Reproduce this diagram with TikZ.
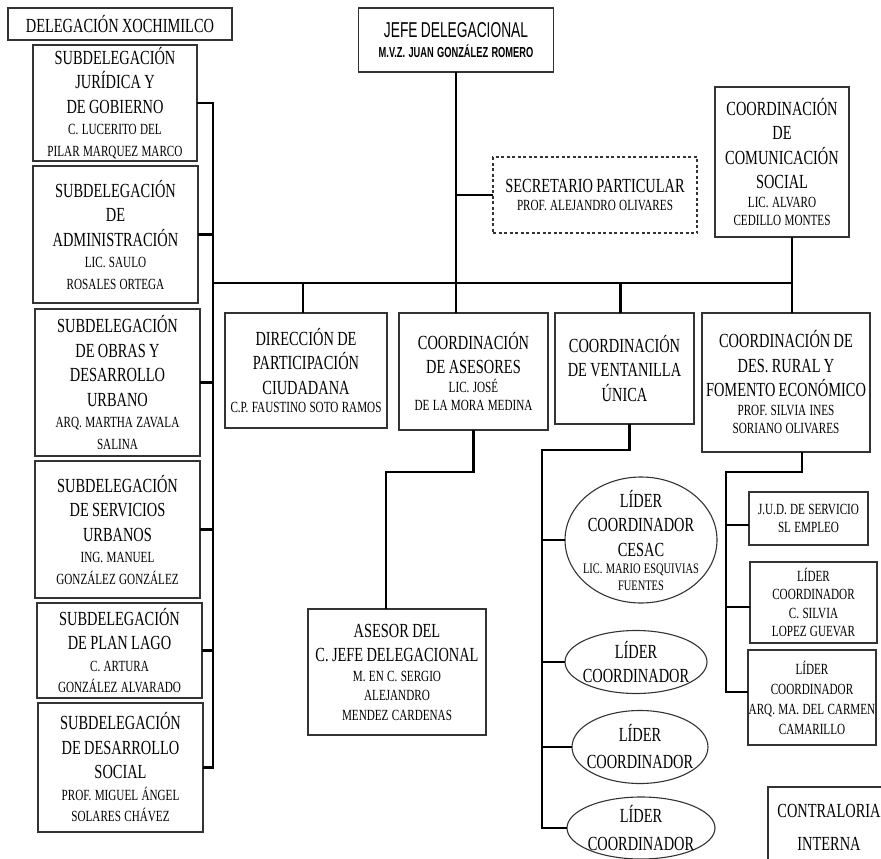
\documentclass[tikz,border=0pt]{standalone}
\usepackage{fontspec}
\setmainfont{Liberation Serif}[FakeStretch=0.72]
\newfontfamily\jefefont{Liberation Sans}[FakeStretch=0.64]
\usetikzlibrary{shapes.geometric}
% heading lines and name lines
\newcommand\hd{\fontsize{20}{24.5}\selectfont}
\newcommand\nm{\fontsize{15.5}{21.5}\selectfont}
\newcommand\nms{\fontsize{15.5}{18.5}\selectfont}
\begin{document}
\begin{tikzpicture}[x=1pt,y=-1pt,
  box/.style={draw=black!80, line width=1.1pt, rectangle, inner sep=0pt, outer sep=0pt, align=center},
  sz/.style 2 args={minimum width=#1pt, minimum height=#2pt, text width=#1pt},
  ell/.style={draw=black!80, line width=1.1pt, ellipse, inner sep=0pt, outer sep=0pt},
  ltext/.style={align=center, inner sep=0pt, text width=150pt},
  link/.style={line width=2.7pt, black}]
\useasboundingbox (0,0) rectangle (881,859);
\clip (0,0) rectangle (881,859);

% left column
\node[box, sz={224}{32}] (deleg) at (120,24) {\hd DELEGACIÓN XOCHIMILCO\endgraf};
\node[box, sz={164}{116}] (jur) at (115,103) {\hd SUBDELEGACIÓN\\ JURÍDICA Y\\ DE GOBIERNO\endgraf\nm C. LUCERITO DEL\\ PILAR MARQUEZ MARCO\endgraf};
\node[box, sz={165}{137}] (adm) at (115.5,234.5) {\hd SUBDELEGACIÓN\\ DE\\ ADMINISTRACIÓN\endgraf\nm LIC. SAULO\\ ROSALES ORTEGA\endgraf};
\node[box, sz={165}{147}] (obr) at (117.5,382.5) {\hd SUBDELEGACIÓN\\ DE OBRAS Y\\ DESARROLLO\\ URBANO\endgraf\nm ARQ. MARTHA ZAVALA\\ SALINA\endgraf};
\node[box, sz={165}{137}] (ser) at (117.5,529.5) {\hd SUBDELEGACIÓN\\ DE SERVICIOS\\ URBANOS\endgraf\nm ING. MANUEL\\ GONZÁLEZ GONZÁLEZ\endgraf};
\node[box, sz={165}{95}] (pla) at (119.5,650.5) {\hd SUBDELEGACIÓN\\ DE PLAN LAGO\endgraf\nm C. ARTURA\\ GONZÁLEZ ALVARADO\endgraf};
\node[box, sz={165}{129}] (des) at (120.5,767.5) {\hd SUBDELEGACIÓN\\ DE DESARROLLO\\ SOCIAL\endgraf\nm PROF. MIGUEL ÁNGEL\\ SOLARES CHÁVEZ\endgraf};

% top
\node[box, sz={195}{64}] (jefe) at (456,40) {\jefefont\fontsize{21.5}{22}\selectfont JEFE DELEGACIONAL\endgraf\bfseries\fontsize{14.5}{20}\selectfont M.V.Z. JUAN GONZÁLEZ ROMERO\endgraf};
\node[box, sz={204}{76}, dashed, dash pattern=on 3pt off 2.5pt] (sec) at (595,195) {\hd SECRETARIO PARTICULAR\endgraf\nms PROF. ALEJANDRO OLIVARES\endgraf};
\node[box, sz={134}{150}] (com) at (782,162) {\hd COORDINACIÓN\\ DE\\ COMUNICACIÓN\\ SOCIAL\endgraf\nms LIC. ALVARO\\ CEDILLO MONTES\endgraf};

% second row
\node[box, sz={162}{115}] (dir) at (306,370.5) {\hd DIRECCIÓN DE\\ PARTICIPACIÓN\\ CIUDADANA\endgraf\nms C.P. FAUSTINO SOTO RAMOS\endgraf};
\node[box, sz={149}{117}] (ase) at (473.5,371.5) {\hd COORDINACIÓN\\ DE ASESORES\endgraf\nms LIC. JOSÉ\\ DE LA MORA MEDINA\endgraf};
\node[box, sz={139}{111}] (ven) at (624.5,368.5) {\hd COORDINACIÓN\\ DE VENTANILLA\\ ÚNICA\endgraf};
\node[box, sz={168}{139}] (rur) at (786,382.5) {\hd COORDINACIÓN DE\\ DES. RURAL Y\\ FOMENTO ECONÓMICO\endgraf\nms PROF. SILVIA INES\\ SORIANO OLIVARES\endgraf};

% advisers
\node[box, sz={178}{126}] (asr) at (397,672) {\hd ASESOR DEL\\ C. JEFE DELEGACIONAL\endgraf\fontsize{15.5}{19.5}\selectfont M. EN C. SERGIO\\ ALEJANDRO\\ MENDEZ CARDENAS\endgraf};

% single window leaders
\node[ell, minimum width=152pt, minimum height=126pt,
  label={[ltext]center:\hd LÍDER\\ COORDINADOR\\ CESAC\endgraf\fontsize{14.5}{17}\selectfont LIC. MARIO ESQUIVIAS\\ FUENTES\endgraf}] (e1) at (641,540) {};
\node[ell, minimum width=142pt, minimum height=63pt,
  label={[ltext]center:\hd LÍDER\\ COORDINADOR\endgraf}] (e2) at (636,662) {};
\node[ell, minimum width=136pt, minimum height=73pt,
  label={[ltext]center:\fontsize{20}{27}\selectfont LÍDER\\ COORDINADOR\endgraf}] (e3) at (640,747) {};
\node[ell, minimum width=148pt, minimum height=62pt,
  label={[ltext]center:\fontsize{20}{28}\selectfont LÍDER\\ COORDINADOR\endgraf}] (e4) at (641,828) {};

% rural development units
\node[box, sz={119}{53}] (jud) at (808.5,518.5) {\nms J.U.D. DE SERVICIO\\ SL EMPLEO\endgraf};
\node[box, sz={127}{81}] (sil) at (813.5,602.5) {\nms LÍDER\\ COORDINADOR\\ C. SILVIA\\ LOPEZ GUEVAR\endgraf};
\node[box, sz={128}{95}] (arq) at (812,697.5) {\fontsize{15.5}{20}\selectfont LÍDER\\ COORDINADOR\\ ARQ. MA. DEL CARMEN\\ CAMARILLO\endgraf};
\node[box, sz={122}{80}] (con) at (829,827) {\fontsize{20}{33}\selectfont CONTRALORIA\\ INTERNA\endgraf};

% connectors
\coordinate (hl) at (213,283);
\coordinate (hr) at (792,283);
\draw[link] (jur.east) -- (hl |- jur.east) -- (hl |- des.east) -- (des.east);
\foreach \n in {adm,obr,ser,pla} \draw[link] (\n.east) -- (hl |- \n.east);
\draw[link] (hl) -- (hr);
\draw[link] (jefe.south) -- (jefe.south |- ase.north);
\draw[link] (jefe.south |- sec.west) -- (sec.west);
\draw[link] (hr |- com.south) -- (hr |- rur.north);
\draw[link] ([xshift=-3pt]dir.north) -- ([xshift=-3pt]dir.north |- hl);
\draw[link] ([xshift=-4pt]ven.north) -- ([xshift=-4pt]ven.north |- hl);

\coordinate (av) at (386,472);
\draw[link] (ase.south) -- (ase.south |- av) -- (av) -- (av |- asr.north);

\coordinate (vb) at (542,450);
\draw[link] ([xshift=5pt]ven.south) -- ([xshift=5pt]ven.south |- vb) -- (vb) -- (vb |- e4.west) -- (e4.west);
\foreach \n in {e1,e2,e3} \draw[link] (vb |- \n.west) -- (\n.west);

\coordinate (rb) at (726,472);
\draw[link] ([xshift=16pt]rur.south) -- ([xshift=16pt]rur.south |- rb) -- (rb) -- (rb |- 0,692) -- (arq.west |- 0,692);
\draw[link] (rb |- 0,525) -- (jud.west |- 0,525);
\draw[link] (rb |- 0,607) -- (sil.west |- 0,607);
\end{tikzpicture}
\end{document}
